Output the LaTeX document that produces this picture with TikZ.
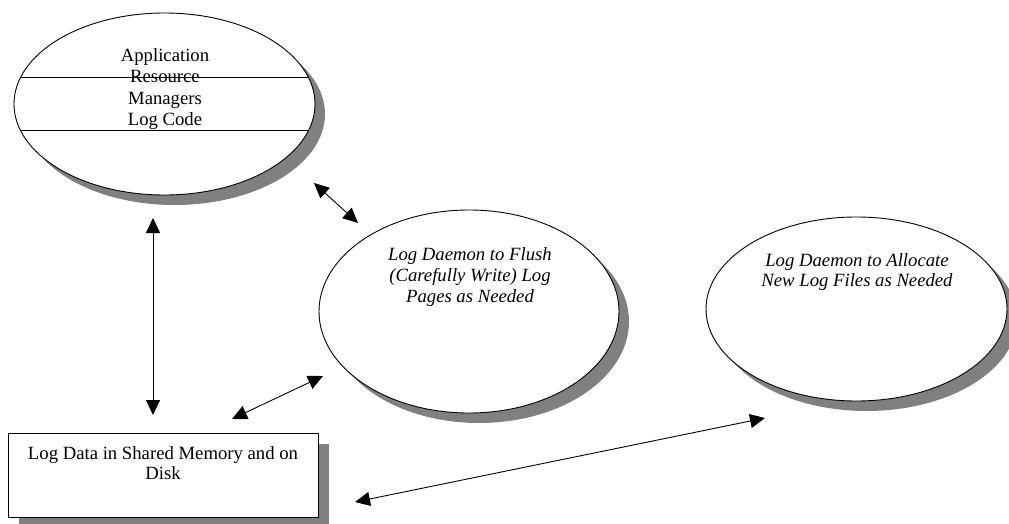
\documentclass[tikz,border=0pt]{standalone}
\usepackage{fontspec}
\setmainfont{Liberation Serif}
\usetikzlibrary{shapes.geometric,shadows,arrows.meta}
\definecolor{shadowgray}{RGB}{128,128,128}
\begin{document}
\begin{tikzpicture}[x=1pt,y=-1pt,
  oval/.style={ellipse,draw,line width=0.9pt,fill=white,inner sep=0pt,
    drop shadow={shadow xshift=10pt,shadow yshift=-10pt,fill=shadowgray,opacity=1}},
  boxnode/.style={rectangle,draw,line width=0.9pt,fill=white,inner sep=0pt,
    drop shadow={shadow xshift=11pt,shadow yshift=-11pt,fill=shadowgray,opacity=1}},
  lbl/.style={align=center,inner sep=0pt,font=\fontsize{18.7}{21.6}\selectfont},
  conn/.style={line width=0.9pt,{Triangle[length=15pt,width=14pt]}-{Triangle[length=15pt,width=14pt]}}
]
\useasboundingbox (0,0) rectangle (1009,524);

% shapes
\node[oval,minimum width=301pt,minimum height=182pt] (A) at (164.5,104) {};
\node[oval,minimum width=300pt,minimum height=203pt] (B) at (469,311.5) {};
\node[oval,minimum width=301pt,minimum height=184pt] (C) at (856.5,309) {};
\node[boxnode,minimum width=310pt,minimum height=84pt] (D) at (163,475) {};

% layer lines in A
\begin{scope}
  \clip (A.center) ellipse [x radius=150.5pt, y radius=91pt];
  \draw[line width=0.9pt] (0,77) -- (330,77);
  \draw[line width=0.9pt] (0,130) -- (330,130);
\end{scope}

% texts
\node[lbl] (At) at (165,89) {Application\\Resource\\Managers\\Log Code};
\node[lbl,font=\fontsize{18.7}{20.8}\selectfont\itshape] (Bt) at (470,277) {Log Daemon to Flush\\(Carefully Write) Log\\Pages as Needed};
\node[lbl,font=\fontsize{18.7}{20.8}\selectfont\itshape] (Ct) at (857,272) {Log Daemon to Allocate\\New Log Files as Needed};
\node[lbl,font=\fontsize{18.7}{20.8}\selectfont] (Dt) at (163,463) {Log Data in Shared Memory and on\\Disk};

% connector end points
\coordinate (a1s) at (314,183);
\coordinate (a1e) at (358,223);
\coordinate (a2s) at (153,218);
\coordinate (a2e) at (153,415);
\coordinate (a3s) at (232,419);
\coordinate (a3e) at (323,376);
\coordinate (a4s) at (355,502);
\coordinate (a4e) at (765,418);

\draw[conn] (a1s) -- (a1e);
\draw[conn] (a2s) -- (a2e);
\draw[conn] (a3s) -- (a3e);
\draw[conn] (a4s) -- (a4e);
\end{tikzpicture}
\end{document}
